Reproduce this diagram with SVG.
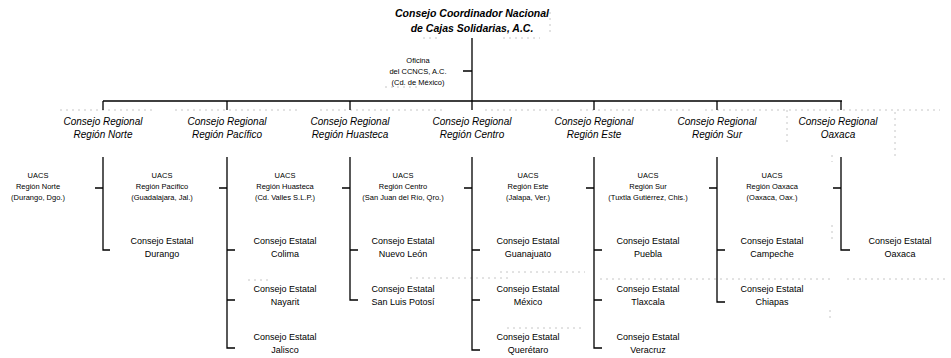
<svg xmlns="http://www.w3.org/2000/svg" width="951" height="358" viewBox="0 0 951 358">
<style>
text{font-family:"Liberation Sans",Arial,sans-serif;fill:#000;text-anchor:middle}
.t{font-size:10.5px;font-weight:bold;font-style:italic}
.r{font-size:10px;font-style:italic}
.u{font-size:7.5px}
.e{font-size:9px}
.ln{fill:none;stroke:#000;stroke-width:1.3}
.fa{fill:none;stroke:#b8b8b8;stroke-width:0.8;stroke-dasharray:2 4}
</style>
<rect width="951" height="358" fill="#fff"/>
<g id="faint">
<path class="fa" d="M60 110H155M175 110H300M320 110H445M485 110H560M580 110H690M705 110H940M787 110V145M895 112V157M832 155V162M832 225V242M410 278H510M500 272H585M600 279H833M847 279H948M507 328H585M830 310V322M248 280H270M423 38H440M503 38H540M550 12V33M385 87H420"/>
</g>
<g id="connectors">
<path class="ln" d="M472 38V101M463 71H472M103 101H842M103 101V110M227 101V110M350 101V110M472 101V110M594 101V110M717 101V110M841 101V110"/>
<path class="ln" d="M95 188H103M103 157V250H110"/>
<path class="ln" d="M219 188H227M227 157V348H235M227 250H235M227 300H235"/>
<path class="ln" d="M342 188H350M350 157V300H358M350 250H358"/>
<path class="ln" d="M464 188H472M472 157V350H480M472 250H480M472 300H480"/>
<path class="ln" d="M586 188H594M594 157V348H602M594 250H602M594 300H602"/>
<path class="ln" d="M709 188H717M717 157V302H725M717 250H725"/>
<path class="ln" d="M833 188H841M841 157V250H850"/>
</g>
<g id="n-ccncs"><text class="t" x="472" y="17">Consejo Coordinador Nacional</text><text class="t" x="472" y="32">de Cajas Solidarias, A.C.</text></g>
<g id="n-oficina"><text class="u" x="418" y="63">Oficina</text><text class="u" x="418" y="74">del CCNCS, A.C.</text><text class="u" x="418" y="85">(Cd. de México)</text></g>
<g id="r-norte"><text class="r" x="103" y="125">Consejo Regional</text><text class="r" x="103" y="138">Región Norte</text></g>
<g id="r-pacifico"><text class="r" x="227" y="125">Consejo Regional</text><text class="r" x="227" y="138">Región Pacífico</text></g>
<g id="r-huasteca"><text class="r" x="350" y="125">Consejo Regional</text><text class="r" x="350" y="138">Región Huasteca</text></g>
<g id="r-centro"><text class="r" x="472" y="125">Consejo Regional</text><text class="r" x="472" y="138">Región Centro</text></g>
<g id="r-este"><text class="r" x="594" y="125">Consejo Regional</text><text class="r" x="594" y="138">Región Este</text></g>
<g id="r-sur"><text class="r" x="717" y="125">Consejo Regional</text><text class="r" x="717" y="138">Región Sur</text></g>
<g id="r-oaxaca"><text class="r" x="838" y="125">Consejo Regional</text><text class="r" x="838" y="138">Oaxaca</text></g>
<g id="u-norte"><text class="u" x="38" y="178">UACS</text><text class="u" x="38" y="189">Región Norte</text><text class="u" x="38" y="200">(Durango, Dgo.)</text></g>
<g id="u-pacifico"><text class="u" x="162" y="178">UACS</text><text class="u" x="162" y="189">Región Pacífico</text><text class="u" x="162" y="200">(Guadalajara, Jal.)</text></g>
<g id="u-huasteca"><text class="u" x="285" y="178">UACS</text><text class="u" x="285" y="189">Región Huasteca</text><text class="u" x="285" y="200">(Cd. Valles S.L.P.)</text></g>
<g id="u-centro"><text class="u" x="403" y="178">UACS</text><text class="u" x="403" y="189">Región Centro</text><text class="u" x="403" y="200">(San Juan del Río, Qro.)</text></g>
<g id="u-este"><text class="u" x="528" y="178">UACS</text><text class="u" x="528" y="189">Región Este</text><text class="u" x="528" y="200">(Jalapa, Ver.)</text></g>
<g id="u-sur"><text class="u" x="648" y="178">UACS</text><text class="u" x="648" y="189">Región Sur</text><text class="u" x="648" y="200">(Tuxtla Gutiérrez, Chis.)</text></g>
<g id="u-oaxaca"><text class="u" x="772" y="178">UACS</text><text class="u" x="772" y="189">Región Oaxaca</text><text class="u" x="772" y="200">(Oaxaca, Oax.)</text></g>
<g id="e-durango"><text class="e" x="162" y="244">Consejo Estatal</text><text class="e" x="162" y="257">Durango</text></g>
<g id="e-colima"><text class="e" x="285" y="244">Consejo Estatal</text><text class="e" x="285" y="257">Colima</text></g>
<g id="e-nayarit"><text class="e" x="285" y="292">Consejo Estatal</text><text class="e" x="285" y="305">Nayarit</text></g>
<g id="e-jalisco"><text class="e" x="285" y="340">Consejo Estatal</text><text class="e" x="285" y="353">Jalisco</text></g>
<g id="e-nuevoleon"><text class="e" x="403" y="244">Consejo Estatal</text><text class="e" x="403" y="257">Nuevo León</text></g>
<g id="e-slp"><text class="e" x="403" y="292">Consejo Estatal</text><text class="e" x="403" y="305">San Luis Potosí</text></g>
<g id="e-guanajuato"><text class="e" x="528" y="244">Consejo Estatal</text><text class="e" x="528" y="257">Guanajuato</text></g>
<g id="e-mexico"><text class="e" x="528" y="292">Consejo Estatal</text><text class="e" x="528" y="305">México</text></g>
<g id="e-queretaro"><text class="e" x="528" y="340">Consejo Estatal</text><text class="e" x="528" y="353">Querétaro</text></g>
<g id="e-puebla"><text class="e" x="648" y="244">Consejo Estatal</text><text class="e" x="648" y="257">Puebla</text></g>
<g id="e-tlaxcala"><text class="e" x="648" y="292">Consejo Estatal</text><text class="e" x="648" y="305">Tlaxcala</text></g>
<g id="e-veracruz"><text class="e" x="648" y="340">Consejo Estatal</text><text class="e" x="648" y="353">Veracruz</text></g>
<g id="e-campeche"><text class="e" x="772" y="244">Consejo Estatal</text><text class="e" x="772" y="257">Campeche</text></g>
<g id="e-chiapas"><text class="e" x="772" y="292">Consejo Estatal</text><text class="e" x="772" y="305">Chiapas</text></g>
<g id="e-oaxaca"><text class="e" x="900" y="244">Consejo Estatal</text><text class="e" x="900" y="257">Oaxaca</text></g>
</svg>
